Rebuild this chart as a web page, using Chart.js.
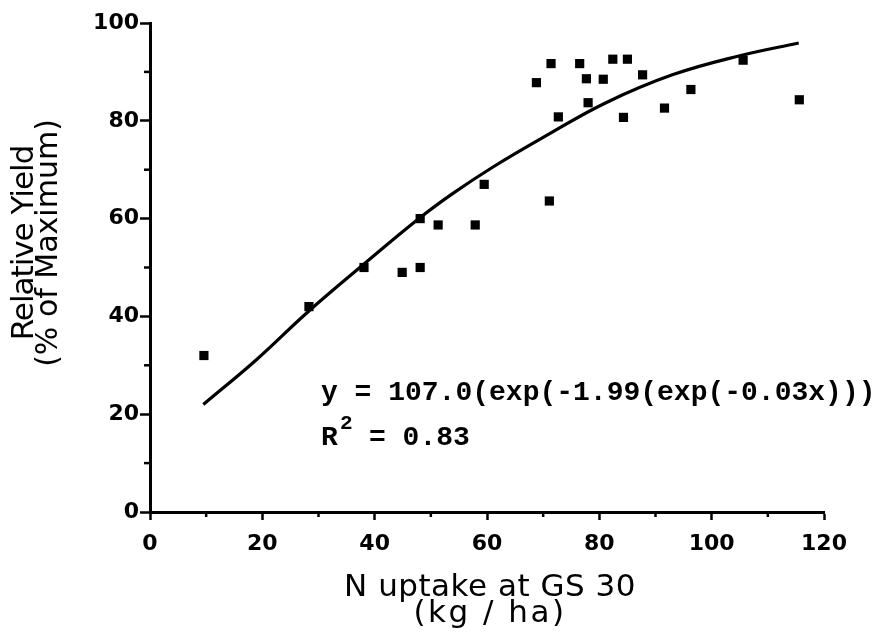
<!DOCTYPE html>
<html>
<head>
<meta charset="utf-8">
<script src="https://cdn.jsdelivr.net/npm/chart.js@4.4.1/dist/chart.umd.min.js"></script>
<style>
  html, body { margin: 0; padding: 0; background: #fff; }
  canvas { display: block; }
</style>
</head>
<body>
<canvas id="c" width="878" height="635"></canvas>
<script>
// ---- data ----
const nUptake  = [9.6, 28.3, 38.1, 44.9, 48.1, 48.1, 51.3, 57.9, 59.5, 68.8, 71.1, 71.4, 72.7, 76.5, 77.7, 78.0, 80.7, 82.4, 84.3, 85.0, 87.7, 91.6, 96.3, 105.6, 115.6];
const relYield = [32.0, 42.0, 50.0, 49.0, 50.0, 60.0, 58.7, 58.7, 67.0, 87.8, 63.6, 91.7, 80.8, 91.7, 88.6, 83.7, 88.5, 92.6, 80.7, 92.6, 89.4, 82.6, 86.4, 92.4, 84.3];
const fitX = [9.5, 19, 28, 38, 48, 54, 61, 70, 81, 93, 105, 115.5];
const fitY = [22.0, 31.2, 40.8, 50.6, 60.1, 65.2, 70.5, 76.6, 83.6, 89.4, 93.3, 95.9];
const xTicks = [0, 20, 40, 60, 80, 100, 120];
const yTicks = [0, 20, 40, 60, 80, 100];
const xMinorTicks = [10, 30, 50, 70, 90, 110];
const yMinorTicks = [10, 30, 50, 70, 90];
const xTitleLines = ['N uptake at GS 30', '(kg / ha)'];
const yTitleLines = ['Relative Yield', '(% of Maximum)'];
const eqText = 'y = 107.0(exp(-1.99(exp(-0.03x)))';
const r2Parts = ['R', '2', '= 0.83'];

const tickFont = { family: "'DejaVu Sans'", size: 22, weight: 'bold' };

function setSpacing(ctx, v) { try { ctx.letterSpacing = v; } catch (e) {} }

const decor = {
  id: 'decor',
  afterDraw(chart) {
    const ctx = chart.ctx;
    const xs = chart.scales.x, ys = chart.scales.y;
    const area = chart.chartArea;
    ctx.save();
    ctx.strokeStyle = '#000';
    ctx.lineWidth = 2.5;
    // minor ticks
    xMinorTicks.forEach(v => {
      const px = xs.getPixelForValue(v);
      ctx.beginPath(); ctx.moveTo(px, area.bottom); ctx.lineTo(px, area.bottom + 5); ctx.stroke();
    });
    yMinorTicks.forEach(v => {
      const py = ys.getPixelForValue(v);
      ctx.beginPath(); ctx.moveTo(area.left - 6, py); ctx.lineTo(area.left, py); ctx.stroke();
    });
    ctx.fillStyle = '#000';
    // axis titles
    ctx.font = "31px 'DejaVu Sans'";
    ctx.textAlign = 'center';
    ctx.textBaseline = 'alphabetic';
    setSpacing(ctx, '0.5px');
    ctx.fillText(xTitleLines[0], 490, 596);
    setSpacing(ctx, '2.5px');
    ctx.fillText(xTitleLines[1], 490, 622);
    setSpacing(ctx, '-1px');
    ctx.save(); ctx.translate(33, 243); ctx.rotate(-Math.PI / 2);
    ctx.fillText(yTitleLines[0], 0, 0); ctx.restore();
    setSpacing(ctx, '0px');
    ctx.font = "30px 'DejaVu Sans'";
    ctx.save(); ctx.translate(57, 243); ctx.rotate(-Math.PI / 2);
    ctx.fillText(yTitleLines[1], 0, 0); ctx.restore();
    // equation
    ctx.textAlign = 'left';
    ctx.font = "bold 28px 'Liberation Mono'";
    ctx.fillText(eqText, 321, 400);
    ctx.fillText(r2Parts[0], 321, 445);
    ctx.font = "bold 21px 'Liberation Mono'";
    ctx.fillText(r2Parts[1], 340, 429);
    ctx.font = "bold 28px 'Liberation Mono'";
    ctx.fillText(r2Parts[2], 369, 445);
    ctx.restore();
  }
};

new Chart(document.getElementById('c'), {
  data: {
    datasets: [
      {
        type: 'scatter',
        data: nUptake.map((x, i) => ({ x: x, y: relYield[i] })),
        pointStyle: 'rect',
        pointRadius: 6.5,
        pointBackgroundColor: '#000',
        pointBorderColor: '#000',
        pointBorderWidth: 0,
        clip: false
      },
      {
        type: 'line',
        data: fitX.map((x, i) => ({ x: x, y: fitY[i] })),
        borderColor: '#000',
        borderWidth: 3.2,
        pointRadius: 0,
        fill: false,
        tension: 0.4,
        clip: false
      }
    ]
  },
  options: {
    responsive: false,
    animation: false,
    devicePixelRatio: 1,
    layout: { padding: { left: 0, right: 54, top: 23, bottom: 0 } },
    plugins: { legend: { display: false }, tooltip: { enabled: false } },
    scales: {
      x: {
        type: 'linear',
        min: xTicks[0], max: xTicks[xTicks.length - 1],
        afterBuildTicks: s => { s.ticks = xTicks.map(v => ({ value: v })); },
        afterFit: s => { s.height = 123; },
        border: { display: true, color: '#000', width: 3 },
        grid: { drawOnChartArea: false, drawTicks: true, tickLength: 8, tickColor: '#000', tickWidth: 2.5 },
        ticks: { color: '#000', font: tickFont, padding: 11, maxRotation: 0 }
      },
      y: {
        type: 'linear',
        min: yTicks[0], max: yTicks[yTicks.length - 1],
        afterBuildTicks: s => { s.ticks = yTicks.map(v => ({ value: v })); },
        afterFit: s => { s.width = 150; },
        border: { display: true, color: '#000', width: 3 },
        grid: { drawOnChartArea: false, drawTicks: true, tickLength: 10, tickColor: '#000', tickWidth: 2.5 },
        ticks: { color: '#000', font: tickFont, padding: 1 }
      }
    }
  },
  plugins: [decor]
});
</script>
</body>
</html>
